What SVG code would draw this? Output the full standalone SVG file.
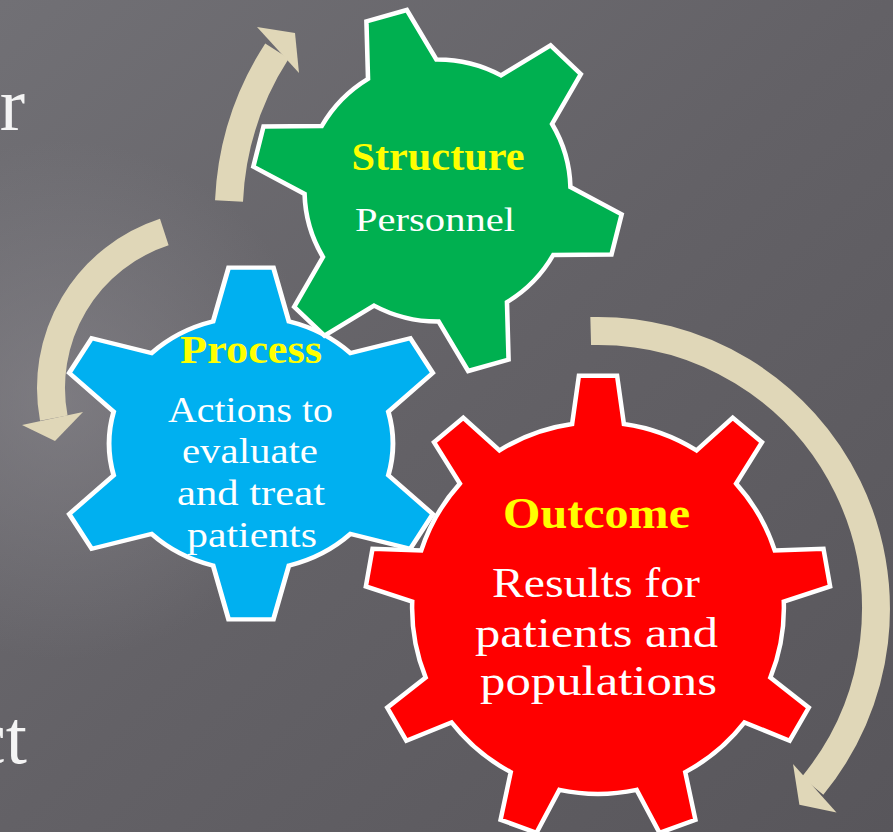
<svg xmlns="http://www.w3.org/2000/svg" width="893" height="832" viewBox="0 0 893 832">
<defs>
<linearGradient id="bg" x1="0" y1="0" x2="1" y2="1">
<stop offset="0" stop-color="#717075"/>
<stop offset="0.5" stop-color="#636166"/>
<stop offset="1" stop-color="#58565b"/>
</linearGradient>
<radialGradient id="glow" cx="60" cy="400" r="260" gradientUnits="userSpaceOnUse">
<stop offset="0" stop-color="#8a888e" stop-opacity="0.6"/>
<stop offset="1" stop-color="#8a888e" stop-opacity="0"/>
</radialGradient>
<path id="gear6" d="M 126.24,-35.01 L 181.82,-20.72 L 181.82,20.72 L 126.24,35.01 A 131 131 0 0 1 93.44,91.82 L 108.85,147.11 L 72.97,167.82 L 32.80,126.83 A 131 131 0 0 1 -32.80,126.83 L -72.97,167.82 L -108.85,147.11 L -93.44,91.82 A 131 131 0 0 1 -126.24,35.01 L -181.82,20.72 L -181.82,-20.72 L -126.24,-35.01 A 131 131 0 0 1 -93.44,-91.82 L -108.85,-147.11 L -72.97,-167.82 L -32.80,-126.83 A 131 131 0 0 1 32.80,-126.83 L 72.97,-167.82 L 108.85,-147.11 L 93.44,-91.82 A 131 131 0 0 1 126.24,-35.01 Z"/>
</defs>
<style>
.gear{stroke:#ffffff;stroke-width:4.5;stroke-linejoin:miter;}
.shaft{fill:none;stroke:#e0d7b8;stroke-width:28;stroke-linecap:butt;}
.head{fill:#e0d7b8;}
.t{font-family:"Liberation Serif","Times New Roman",serif;text-anchor:middle;}
.title{font-weight:bold;fill:#ffff00;}
.body{fill:#ffffff;}
.side{font-family:"Liberation Serif","Times New Roman",serif;fill:#f4f4f4;font-size:76px;text-anchor:end;}
</style>
<rect width="893" height="832" fill="url(#bg)"/>
<rect width="893" height="832" fill="url(#glow)"/>
<text class="side" x="25" y="130">r</text>
<text class="side" x="27" y="763">ct</text>
<g id="connectors">
<path class="shaft" d="M 229,201 A 302 302 0 0 1 277,51"/>
<polygon class="head" points="257,27 295,33 299,73"/>
<path class="shaft" d="M 164.3,232 A 164 164 0 0 0 53.8,418.2"/>
<polygon class="head" points="22,425 55,441 83,412"/>
<path class="shaft" d="M 590.7,331.1 A 278 278 0 0 1 812.5,785.8"/>
<polygon class="head" points="793,764 799.4,804.8 836.5,812.5"/>
</g>
<g id="outcome">
<path class="gear" fill="#ff0000" transform="translate(598,608) scale(1.027) rotate(-90)" d="M 179.24,-25.19 L 226.24,-18.60 L 226.24,18.60 L 179.24,25.19 A 181 181 0 0 1 153.50,95.92 L 185.26,131.17 L 161.35,159.67 L 121.11,134.51 A 181 181 0 0 1 55.93,172.14 L 57.60,219.57 L 20.97,226.03 L 6.32,180.89 A 181 181 0 0 1 -67.80,167.82 L -97.01,205.23 L -129.23,186.63 L -111.43,142.63 A 181 181 0 0 1 -159.81,84.97 L -206.23,94.86 L -218.96,59.90 L -177.05,37.63 A 181 181 0 0 1 -177.05,-37.63 L -218.96,-59.90 L -206.23,-94.86 L -159.81,-84.97 A 181 181 0 0 1 -111.43,-142.63 L -129.23,-186.63 L -97.01,-205.23 L -67.80,-167.82 A 181 181 0 0 1 6.32,-180.89 L 20.97,-226.03 L 57.60,-219.57 L 55.93,-172.14 A 181 181 0 0 1 121.11,-134.51 L 161.35,-159.67 L 185.26,-131.17 L 153.50,-95.92 A 181 181 0 0 1 179.24,-25.19 Z" vector-effect="non-scaling-stroke"/>
<text class="t title" x="596.5" y="528" font-size="44" textLength="187" lengthAdjust="spacingAndGlyphs">Outcome</text>
<text class="t body" x="596" y="597" font-size="43" textLength="208" lengthAdjust="spacingAndGlyphs">Results for</text>
<text class="t body" x="596.5" y="647" font-size="43" textLength="243" lengthAdjust="spacingAndGlyphs">patients and</text>
<text class="t body" x="598.5" y="695" font-size="43" textLength="237" lengthAdjust="spacingAndGlyphs">populations</text>
</g>
<g id="process">
<use href="#gear6" class="gear" fill="#00b0f0" transform="translate(251,443.5) scale(1.083,0.967) rotate(30)" vector-effect="non-scaling-stroke"/>
<text class="t title" x="251" y="363" font-size="41" textLength="142" lengthAdjust="spacingAndGlyphs">Process</text>
<text class="t body" x="250.5" y="422" font-size="35" textLength="165" lengthAdjust="spacingAndGlyphs">Actions to</text>
<text class="t body" x="250" y="463" font-size="35" textLength="136" lengthAdjust="spacingAndGlyphs">evaluate</text>
<text class="t body" x="251" y="505" font-size="35" textLength="148" lengthAdjust="spacingAndGlyphs">and treat</text>
<text class="t body" x="252" y="547" font-size="35" textLength="130" lengthAdjust="spacingAndGlyphs">patients</text>
</g>
<g id="structure">
<use href="#gear6" class="gear" fill="#00b050" transform="translate(437.5,190.5) scale(1.015,1) rotate(14)" vector-effect="non-scaling-stroke"/>
<text class="t title" x="438" y="170" font-size="40" textLength="173" lengthAdjust="spacingAndGlyphs">Structure</text>
<text class="t body" x="435" y="231" font-size="33" textLength="160" lengthAdjust="spacingAndGlyphs">Personnel</text>
</g>
</svg>
